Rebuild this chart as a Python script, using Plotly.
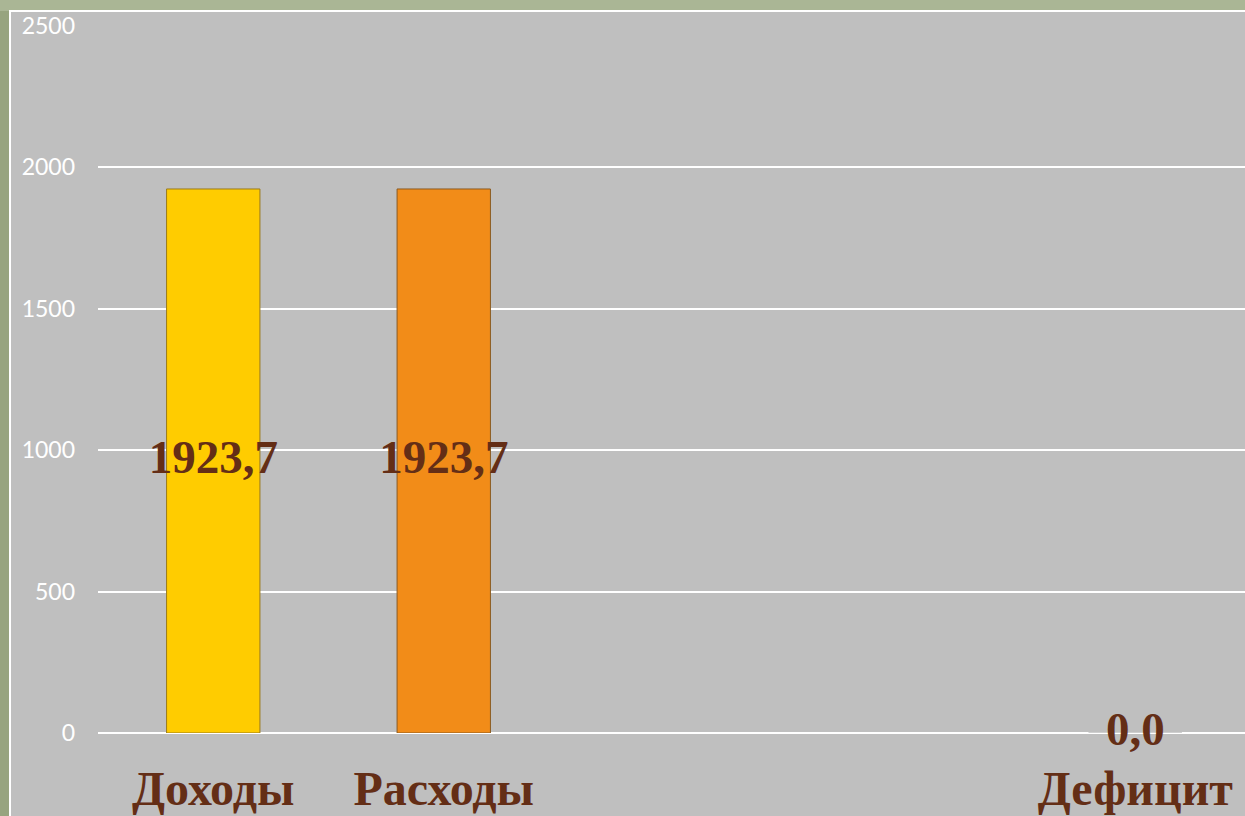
import plotly.graph_objects as go

categories = ["Доходы", "Расходы", " ", "  ", "Дефицит"]
values = [1923.7, 1923.7, None, None, 0.0]
bar_colors = ["#FFCC00", "#F28C18", "#BFBFBF", "#BFBFBF", "#BFBFBF"]
edge_colors = ["#9A7A1A", "#8A5A20", "#BFBFBF", "#BFBFBF", "#BFBFBF"]
y_ticks = [0, 500, 1000, 1500, 2000, 2500]

label_x = [c for c, v in zip(categories, values) if v is not None]
label_vals = [v for v in values if v is not None]
label_text = [f"{v:.1f}".replace(".", ",") for v in label_vals]

W, H = 1245, 816
L, R, T, B = 98, 0, 26, 83
pw, ph = W - L - R, H - T - B


def px_x(p):
    return (p - L) / pw


def px_y(p):
    return (T + ph - p) / ph


fig = go.Figure()
fig.add_trace(go.Bar(
    x=categories, y=values,
    marker=dict(color=bar_colors, line=dict(color=edge_colors, width=1)),
    width=0.405, hoverinfo="skip",
))
fig.add_trace(go.Scatter(
    x=label_x, y=[v / 2 for v in label_vals], mode="text", text=label_text,
    textposition="middle center", cliponaxis=False,
    textfont=dict(family="Liberation Serif", size=47, color="#642E16", weight="bold"),
    hoverinfo="skip",
))

# left darker strip of the slide background
fig.add_shape(type="rect", xref="paper", yref="paper",
              x0=px_x(-5), x1=px_x(10), y0=px_y(H + 5), y1=px_y(11),
              fillcolor="#97A47F", line=dict(width=0), layer="below")
# grey chart panel with white border
fig.add_shape(type="rect", xref="paper", yref="paper",
              x0=px_x(10), x1=px_x(W + 5), y0=px_y(H + 5), y1=px_y(11),
              fillcolor="#BFBFBF", line=dict(color="#FFFFFF", width=2), layer="below")

fig.update_layout(
    width=W, height=H,
    margin=dict(l=L, r=R, t=T, b=B),
    paper_bgcolor="#AAB695", plot_bgcolor="rgba(0,0,0,0)",
    showlegend=False, bargap=0.6,
    xaxis=dict(type="category", categoryorder="array", categoryarray=categories,
               range=[-0.5, -0.5 + pw / 230.5], showgrid=False, zeroline=False,
               showline=False, ticks="",
               tickfont=dict(family="Liberation Serif", size=48, color="#642E16", weight="bold"),
               ticklabelstandoff=23),
    yaxis=dict(range=[0, 2500], tickvals=y_ticks, showgrid=True, gridcolor="#FFFFFF",
               gridwidth=2, zeroline=True, zerolinecolor="#FFFFFF", zerolinewidth=2,
               showline=False, ticks="",
               tickfont=dict(family="Lato", size=23, color="#FFFFFF"),
               ticklabelstandoff=22),
)

fig.write_html("out.html", config={"displayModeBar": False},
               post_script="document.body.style.margin='0';document.body.style.overflow='hidden';")
